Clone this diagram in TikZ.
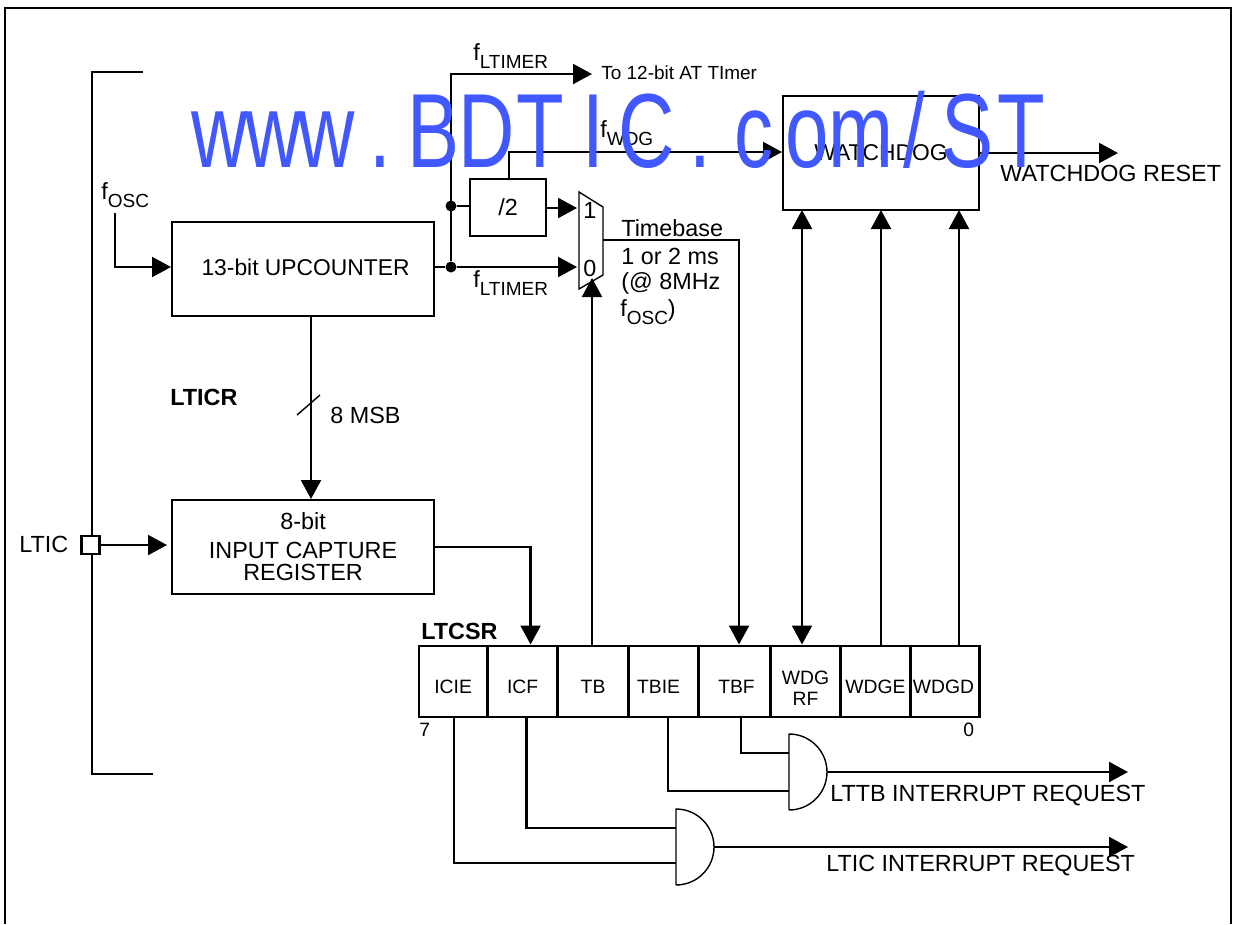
\documentclass[tikz,border=0pt]{standalone}
\usepackage{fontspec}
\setmainfont{Liberation Sans}
\newfontfamily\wmfont[FakeStretch=0.74]{Liberation Sans}
\usepackage{tikz}
\usetikzlibrary{arrows.meta, positioning, calc}
\definecolor{cMark}{RGB}{66,88,255}
\newcommand{\txtsub}[1]{\raisebox{-0.34em}{\fontsize{10.8}{11}\selectfont #1}}
\newcommand{\wmch}[1]{\makebox[1.068cm][c]{#1}}
\tikzset{
	blk/.style    ={rectangle, draw=black, line width=1.25pt, anchor=north west, align=center, inner sep=0pt},
	regcell/.style={rectangle, draw=black, line width=1.25pt, minimum height=1.42cm, align=center, inner sep=0pt, font=\fontsize{11}{12}\selectfont, execute at begin node={\rule{0pt}{0.48cm}}},
	lbl/.style    ={inner sep=0pt, anchor=west, align=left},
	wire/.style   ={line width=1.25pt},
	sig/.style    ={-{Triangle[length=0.38cm, width=0.40cm]}, line width=1.25pt},
	dsig/.style   ={{Triangle[length=0.38cm, width=0.40cm]}-{Triangle[length=0.38cm, width=0.40cm]}, line width=1.25pt},
	dotj/.style   ={circle, fill=black, minimum size=0.22cm, inner sep=0pt},
	andg/.style   ={rectangle, minimum width=0.76cm, minimum height=1.52cm, inner sep=0pt, outer sep=0pt, anchor=north west},
	gateln/.style ={line width=0.8pt},
}
\begin{document}
\begin{tikzpicture}[x=0.02cm, y=-0.02cm, font=\fontsize{13.3}{15}\selectfont]
	\useasboundingbox (0,0) rectangle (1236,924);
	\draw[wire] (5,924) -- (5,8) -- (1231,8) -- (1231,924);
	% blocks
	\node[blk, minimum width=5.24cm, minimum height=1.88cm] (cnt) at (171,221) {\raisebox{0.07cm}{\hspace*{0.1cm}\fontsize{13}{15}\selectfont 13-bit UPCOUNTER}};
	\node[blk, minimum width=5.24cm, minimum height=1.88cm] (icr) at (171,499) {8-bit\\[1pt] INPUT CAPTURE\\[-2pt] REGISTER};
	\node[blk, minimum width=1.52cm, minimum height=1.14cm] (div) at (469,178) {/2};
	\node[blk, minimum width=3.92cm, minimum height=2.28cm, font=\fontsize{13}{15}\selectfont] (wdg) at (782,95) {WATCHDOG};
	\node[rectangle, draw=black, fill=white, line width=1.25pt, minimum size=0.36cm, inner sep=0pt] (pin) at (90.5,545) {};
	\draw[wire] (143,72) -- (92,72) -- (92,536);
	\draw[wire] (92,555) -- (92,774) -- (153,774);
	% register
	\node[regcell, anchor=north west, minimum width=1.38cm] (cICIE) at (417.5,644.5) {ICIE};
	\node[regcell, right=-1.25pt of cICIE, minimum width=1.40cm] (cICF) {ICF};
	\node[regcell, right=-1.25pt of cICF, minimum width=1.42cm] (cTB) {TB};
	\node[regcell, right=-1.25pt of cTB, minimum width=1.40cm] (cTBIE) {\hspace*{-0.2cm}TBIE};
	\node[regcell, right=-1.25pt of cTBIE, minimum width=1.44cm] (cTBF) {\hspace*{0.08cm}TBF};
	\node[regcell, right=-1.25pt of cTBF, minimum width=1.40cm] (cWDGRF) {\rule{0pt}{0.55cm}WDG\\RF};
	\node[regcell, right=-1.25pt of cWDGRF, minimum width=1.40cm] (cWDGE) {WDGE};
	\node[regcell, right=-1.25pt of cWDGE, minimum width=1.38cm] (cWDGD) {\hspace*{-0.06cm}WDGD};
	% gates
	\node[andg] (gTB) at (789,734) {};
	\node[andg] (gIC) at (676,809) {};
	\draw[gateln] (gTB.south west) -- (gTB.north west) arc[start angle=90, end angle=-90, x radius=0.76cm, y radius=0.76cm];
	\draw[gateln] (gIC.south west) -- (gIC.north west) arc[start angle=90, end angle=-90, x radius=0.76cm, y radius=0.76cm];
	\coordinate (gTBa) at (789,753); \coordinate (gTBb) at (789,791);
	\coordinate (gICa) at (676,828); \coordinate (gICb) at (676,863);
	% mux
	\coordinate (muxA) at (579,192); \coordinate (muxB) at (603,207);
	\coordinate (muxC) at (603,275); \coordinate (muxD) at (579,289);
	\draw[gateln] (muxA) -- (muxB) -- (muxC) -- (muxD) -- cycle;
	\node[lbl] (mux1) at (583,210) {1};
	\node[lbl] (mux0) at (583,268) {0};
	% junctions and free ends
	\coordinate (top) at (451,74);
	\coordinate (toAT) at (592,74);
	\coordinate (fosc) at (115,213);
	\node[dotj] (j1) at (451,206) {};
	\node[dotj] (j2) at (451,267) {};
	\coordinate (in1) at (577,208);
	\coordinate (in0) at (577,267);
	\coordinate (sel) at (592,278);
	\coordinate (out) at (603,240);
	\coordinate (wdgR) at (802,210);
	\coordinate (wdgD) at (959,210);
	\coordinate (wdgE) at (881,210);
	\coordinate (rstEnd) at (1118,153);
	\coordinate (reqA) at (1128,772);
	\coordinate (reqB) at (1128,848);
	% connectors
	\draw[sig] (fosc) |- (cnt.west |- j2);
	\draw[wire] (cnt.east |- j2) -- (j2);
	\draw[sig] (j2) -- (in0);
	\draw[sig] (j2) -- (top) -- (toAT);
	\draw[wire] (j1) -- (div.west |- j1);
	\draw[sig] (div.east |- in1) -- (in1);
	\draw[sig] (div.north -| 509,179) -- (509,152) -- (wdg.west |- 0,152);
	\draw[sig] (wdg.east |- rstEnd) -- (rstEnd);
	\draw[sig] (cnt.south -| 311,0) -- (icr.north -| 311,0);
	\draw[line width=0.8pt] (297,415) -- (320,395);
	\draw[sig] (pin.east) -- (167,545);
	\draw[sig] (icr.east) -| ([xshift=0.16cm]cICF.north);
	\draw[sig] (cTB.north -| sel) -- (sel);
	\draw[sig] (out) -| ([xshift=0.09cm]cTBF.north);
	\draw[dsig] (wdgR |- cWDGRF.north) -- (wdgR);
	\draw[sig] (wdgE |- cWDGE.north) -- (wdgE);
	\draw[sig] (wdgD |- cWDGD.north) -- (wdgD);
	\draw[wire] ([xshift=0.13cm]cTBF.south) |- (gTBa);
	\draw[wire] ([xshift=0.09cm]cTBIE.south) |- (gTBb);
	\draw[wire] ([xshift=0.08cm]cICF.south) |- (gICa);
	\draw[wire] ([xshift=0.02cm]cICIE.south) |- (gICb);
	\draw[sig] (gTB.east) -- (gTB.east -| reqA);
	\draw[sig] (gIC.east) -- (gIC.east -| reqB);
	% labels
	\node[lbl] (lFosc) at (101,195) {f\txtsub{OSC}};
	\node[lbl] (lLtA) at (473,56) {f\txtsub{LTIMER}};
	\node[lbl] (lLtB) at (473,283) {f\txtsub{LTIMER}};
	\node[lbl] (lWdg) at (600,133) {f\txtsub{WDG}};
	\node[lbl, font=\fontsize{10.8}{12}\selectfont] (lAT) at (601,73) {To 12-bit AT TImer};
	\node[lbl] (lBase) at (621,228) {Timebase};
	\node[lbl] (lMs) at (621,256) {1 or 2 ms};
	\node[lbl] (lMhz) at (621,283) {(@ 8MHz};
	\node[lbl] (lOsc) at (620,312) {f\txtsub{OSC})};
	\node[lbl] (lRst) at (1000,173) {WATCHDOG RESET};
	\node[lbl, font=\fontsize{13.3}{15}\bfseries] (lIcr) at (170,397) {LTICR};
	\node[lbl] (lMsb) at (330,415) {8 MSB};
	\node[lbl] (lLtic) at (19,544) {LTIC};
	\node[lbl, font=\fontsize{13.3}{15}\bfseries] (lCsr) at (421,631) {LTCSR};
	\node[lbl, font=\fontsize{11}{13}\selectfont] (l7) at (419,730) {7};
	\node[lbl, font=\fontsize{11}{13}\selectfont] (l0) at (963,730) {0};
	\node[lbl] (lTTB) at (830,796) {LTTB INTERRUPT REQUEST};
	\node[lbl] (lTIC) at (826,866) {LTIC INTERRUPT REQUEST};
	% overprinted mark
	\node[lbl, text=cMark, font=\fontsize{60}{60}\wmfont] (mark) at (193,130)
		{\wmch{w}\wmch{w}\wmch{w}\wmch{.}\wmch{B}\wmch{D}\wmch{T}\wmch{I}\wmch{C}\wmch{.}\wmch{c}\wmch{o}\wmch{m}\wmch{/}\wmch{S}\wmch{T}};
\end{tikzpicture}
\end{document}
